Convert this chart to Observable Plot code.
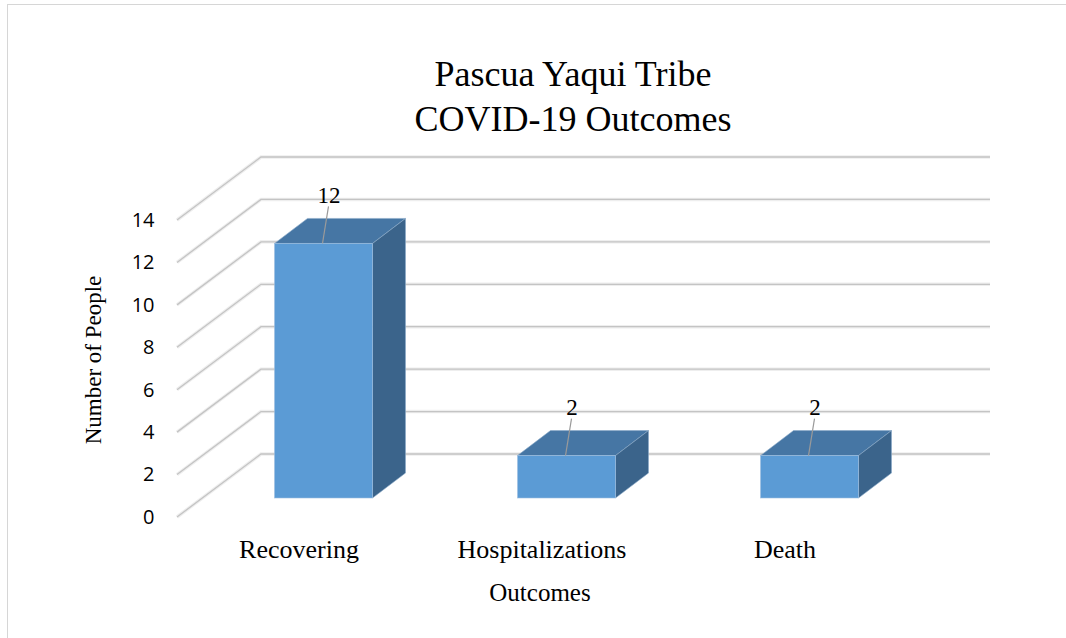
<!DOCTYPE html>
<html>
<head>
<meta charset="utf-8">
<script src="https://cdn.jsdelivr.net/npm/d3@7"></script>
<script src="https://cdn.jsdelivr.net/npm/@observablehq/plot@0.6"></script>
<style>
  body { margin: 0; background: #fff; }
  #wrap { position: relative; width: 1066px; height: 638px; overflow: hidden; background: #fff; }
  #frame { position: absolute; left: 7px; top: 4px; width: 1100px; height: 700px; border: 1px solid #d6d6d6; box-sizing: border-box; pointer-events: none; z-index: 2; }
  #chart { position: absolute; left: 0; top: 0; }
</style>
</head>
<body>
<div id="wrap"><div id="frame"></div><div id="chart"></div></div>
<script>
// ---- data ----
const categories = ["Recovering", "Hospitalizations", "Death"];
const values = [12, 2, 2];
const yTicks = [0, 2, 4, 6, 8, 10, 12, 14];
const titleLines = ["Pascua Yaqui Tribe", "COVID-19 Outcomes"];
const xTitle = "Outcomes";
const yTitle = "Number of People";

const data = categories.map((c, i) => ({category: c, value: values[i]}));

// ---- 3D styling constants (pixels) ----
const WALL_DX = 84, WALL_DY = -63;        // front plane -> back wall
const FRONT_DX = 25, FRONT_DY = -19;      // front plane -> bar front face
const DEPTH_DX = 33, DEPTH_DY = -25;      // bar front face -> bar back face
const BAR_INSET = 72.5;
const SERIF = "'Liberation Serif', 'Times New Roman', serif";
const SANS = "'Open Sans', 'Liberation Sans', sans-serif";

// grid: diagonal lines on the left wall + horizontal lines on the back wall
function grid3d(index, scales, values, dims) {
  const g = d3.create("svg:g").attr("fill", "none");
  const x0 = dims.marginLeft, x1 = dims.width - dims.marginRight;
  for (const t of yTicks) {
    const y = scales.y(t);
    const d = `M${x0},${y}L${x0 + WALL_DX},${y + WALL_DY}L${x1 + WALL_DX},${y + WALL_DY}`;
    g.append("path").attr("d", d).attr("stroke", "#eeeeee").attr("stroke-width", 3.5);
    g.append("path").attr("d", d).attr("stroke", "#c4c4c4").attr("stroke-width", 1.3);
  }
  return g.node();
}

// top and side faces of the bars
function barFaces(index, scales, vals, dims) {
  const g = d3.create("svg:g");
  const bw = scales.x.bandwidth();
  for (const d of data) {
    const L = scales.x(d.category) + BAR_INSET + FRONT_DX;
    const R = scales.x(d.category) + bw - BAR_INSET + FRONT_DX;
    const T = scales.y(d.value) + FRONT_DY;
    const B = scales.y(0) + FRONT_DY;
    g.append("path")
      .attr("d", `M${L},${T}L${R},${T}L${R + DEPTH_DX},${T + DEPTH_DY}L${L + DEPTH_DX},${T + DEPTH_DY}Z`)
      .attr("fill", "#4676a4").attr("stroke", "#8aa9c8").attr("stroke-width", 0.6);
    g.append("path")
      .attr("d", `M${R},${T}L${R + DEPTH_DX},${T + DEPTH_DY}L${R + DEPTH_DX},${B + DEPTH_DY}L${R},${B}Z`)
      .attr("fill", "#3b648b").attr("stroke", "#8aa9c8").attr("stroke-width", 0.6);
  }
  return g.node();
}

// leader lines from value labels to bar tops
function leaders(index, scales) {
  const g = d3.create("svg:g").attr("stroke", "#9a9a9a").attr("stroke-width", 1.2);
  const bw = scales.x.bandwidth();
  for (const d of data) {
    const cx = scales.x(d.category) + bw / 2 + FRONT_DX;
    const T = scales.y(d.value) + FRONT_DY;
    g.append("line").attr("x1", cx - 1).attr("y1", T).attr("x2", cx + 5).attr("y2", T - 37);
  }
  return g.node();
}

const chart = Plot.plot({
  width: 1066,
  height: 638,
  marginTop: 220,
  marginBottom: 121,
  marginLeft: 177,
  marginRight: 160,
  style: {background: "transparent", fontFamily: SERIF, color: "#000"},
  x: {domain: categories, padding: 0},
  y: {domain: [0, 14]},
  marks: [
    grid3d,
    barFaces,
    Plot.barY(data, {
      x: "category", y: "value",
      insetLeft: BAR_INSET, insetRight: BAR_INSET,
      dx: FRONT_DX, dy: FRONT_DY,
      fill: "#5b9bd5", stroke: "#9fbfe0", strokeWidth: 0.6
    }),
    leaders,
    Plot.text(data, {
      x: "category", y: "value", text: d => String(d.value),
      dx: FRONT_DX + 5, dy: FRONT_DY - 48,
      fontSize: 23, fontFamily: SERIF, fill: "#000", lineAnchor: "middle"
    }),
    Plot.axisY({
      ticks: yTicks, tickSize: 0, tickPadding: 23, label: null,
      fontSize: 20, fontFamily: SANS, fill: "#000"
    }),
    Plot.axisX({
      tickSize: 0, tickPadding: 22, label: null,
      fontSize: 26, fontFamily: SERIF, fill: "#000"
    }),
    Plot.text([titleLines.join("\n")], {
      frameAnchor: "top", lineAnchor: "top", textAnchor: "middle", dx: 31, dy: -166,
      fontSize: 36, lineHeight: 1.25, fontFamily: SERIF, fill: "#000"
    }),
    Plot.text([xTitle], {
      frameAnchor: "bottom", lineAnchor: "top", textAnchor: "middle", dx: -2, dy: 66,
      fontSize: 25, fontFamily: SERIF, fill: "#000"
    }),
    Plot.text([yTitle], {
      frameAnchor: "left", rotate: -90, lineAnchor: "middle", textAnchor: "middle", dx: -84, dy: -9,
      fontSize: 23, fontFamily: SERIF, fill: "#000"
    })
  ]
});

document.getElementById("chart").appendChild(chart);
</script>
</body>
</html>
